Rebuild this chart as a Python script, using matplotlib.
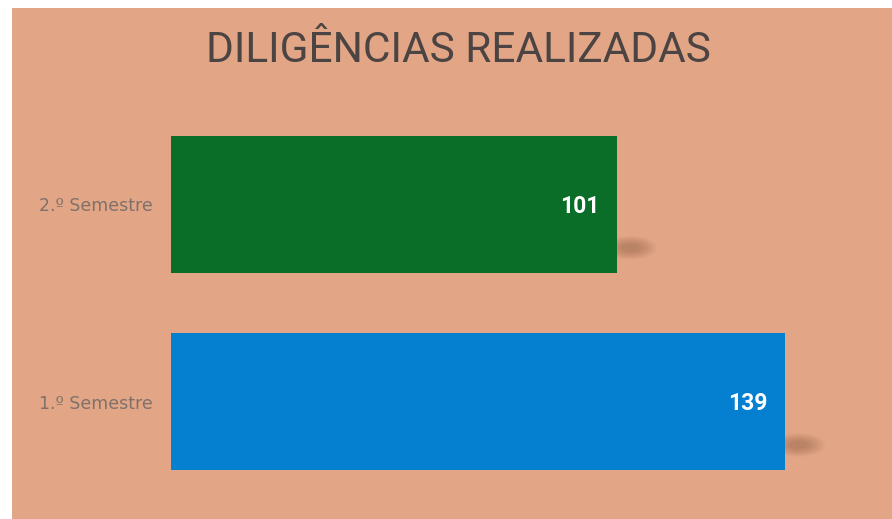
import matplotlib
matplotlib.use('Agg')
import matplotlib.pyplot as plt
from matplotlib.patches import Rectangle, Ellipse

categories = ['1.º Semestre', '2.º Semestre']
values = [139, 101]
bar_colors = ['#0580d0', '#0a6e28']
title = 'DILIGÊNCIAS REALIZADAS'

BG = '#e2a686'

fig = plt.figure(figsize=(8.92, 5.19), dpi=100, facecolor='white')
# scanned page: peach panel with a thin white margin top-left
fig.patches.append(Rectangle((12/892, 0), 1, 1 - 8/519, transform=fig.transFigure,
                             facecolor=BG, edgecolor='none', zorder=-1))

ax = fig.add_axes([171/892, 9/519, 702/892, 414/519])
ax.set_facecolor('none')
ax.set_xlim(0, 158.8)
ax.set_ylim(-0.55, 1.55)

ypos = list(range(len(categories)))
# soft, blurry shadow off the lower right corner of each bar
for y, v in zip(ypos, values):
    for k in range(10):
        ax.add_patch(Ellipse((v + 3, y - 0.22), 12 - k*0.9, 0.12 - k*0.009, angle=0,
                             facecolor='#6e3f28', edgecolor='none', alpha=0.035, zorder=1))

bars = ax.barh(ypos, values, height=0.695, color=bar_colors, zorder=2)
for b, v in zip(bars, values):
    ax.text(v - 4, b.get_y() + b.get_height()/2 - 0.01, str(v), ha='right', va='center',
            color='white', fontsize=16.5, fontweight='bold', family='Roboto', zorder=3)

ax.set_yticks(ypos)
ax.set_yticklabels(categories, fontsize=12.5, color='#80706a', family='DejaVu Sans')
ax.tick_params(axis='y', length=0, pad=13)
ax.set_xticks([])
for sp in ax.spines.values():
    sp.set_visible(False)

fig.text(458/892, 1 - 51/519, title, ha='center', va='center', fontsize=30.5,
         color='#4b4442', family='Roboto')

fig.savefig('out.png', dpi=100, facecolor='white')
